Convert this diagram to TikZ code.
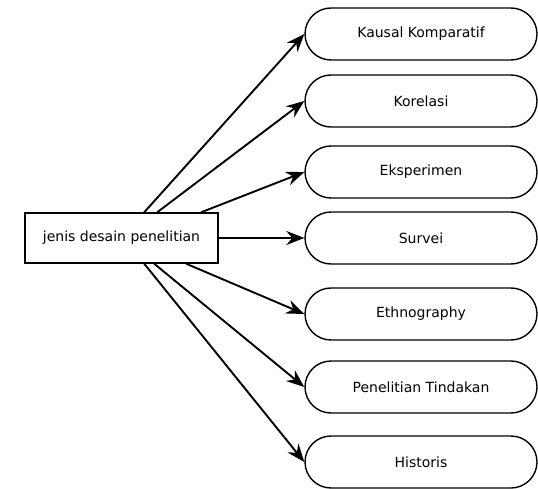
\documentclass[tikz,border=0pt]{standalone}
\usepackage{fontspec}
\setmainfont{DejaVu Sans}
\usetikzlibrary{arrows.meta,shapes.misc}

\begin{document}
\begin{tikzpicture}[x=1pt, y=-1pt,
    font=\fontsize{14}{16}\selectfont,
    rootbox/.style={draw, line width=1.5pt, minimum width=193pt,
                    minimum height=50pt, inner sep=0pt},
    kind/.style={draw, rounded rectangle, line width=1.4pt,
                 minimum width=232pt, minimum height=52pt, inner sep=0pt},
    link/.style={line width=1.9pt, -{Stealth[length=18pt, width=14pt, inset=6pt]}}]
  % Kinds of research design fanning out from a single source box.
  \useasboundingbox (0,0) rectangle (538,489);

  % --- source box ---
  \node[rootbox] (jenis) at (121.5,238) {jenis desain penelitian};

  % --- design kinds, stacked on the right ---
  \node[kind] (kausal)     at (421,34)  {Kausal Komparatif};
  \node[kind] (korelasi)   at (421,101) {Korelasi};
  \node[kind] (eksperimen) at (421,172) {Eksperimen};
  \node[kind] (survei)     at (421,238) {Survei};
  \node[kind] (ethno)      at (421,314) {Ethnography};
  \node[kind] (tindakan)   at (421,387) {Penelitian Tindakan};
  \node[kind] (historis)   at (421,462) {Historis};

  % --- start points on the box edges ---
  \coordinate (t1) at ([xshift=120pt]jenis.north west);
  \coordinate (t2) at ([xshift=133pt]jenis.north west);
  \coordinate (t3) at ([xshift=177pt]jenis.north west);
  \coordinate (b1) at ([xshift=162pt]jenis.south west);
  \coordinate (b2) at ([xshift=130pt]jenis.south west);
  \coordinate (b3) at ([xshift=120pt]jenis.south west);

  % --- connectors ---
  \draw[link] (t1) -- (kausal.west);
  \draw[link] (t2) -- (korelasi.west);
  \draw[link] (t3) -- (eksperimen.west);
  \draw[link] (jenis.east) -- (survei.west);
  \draw[link] (b1) -- (ethno.west);
  \draw[link] (b2) -- (tindakan.west);
  \draw[link] (b3) -- (historis.west);
\end{tikzpicture}
\end{document}
